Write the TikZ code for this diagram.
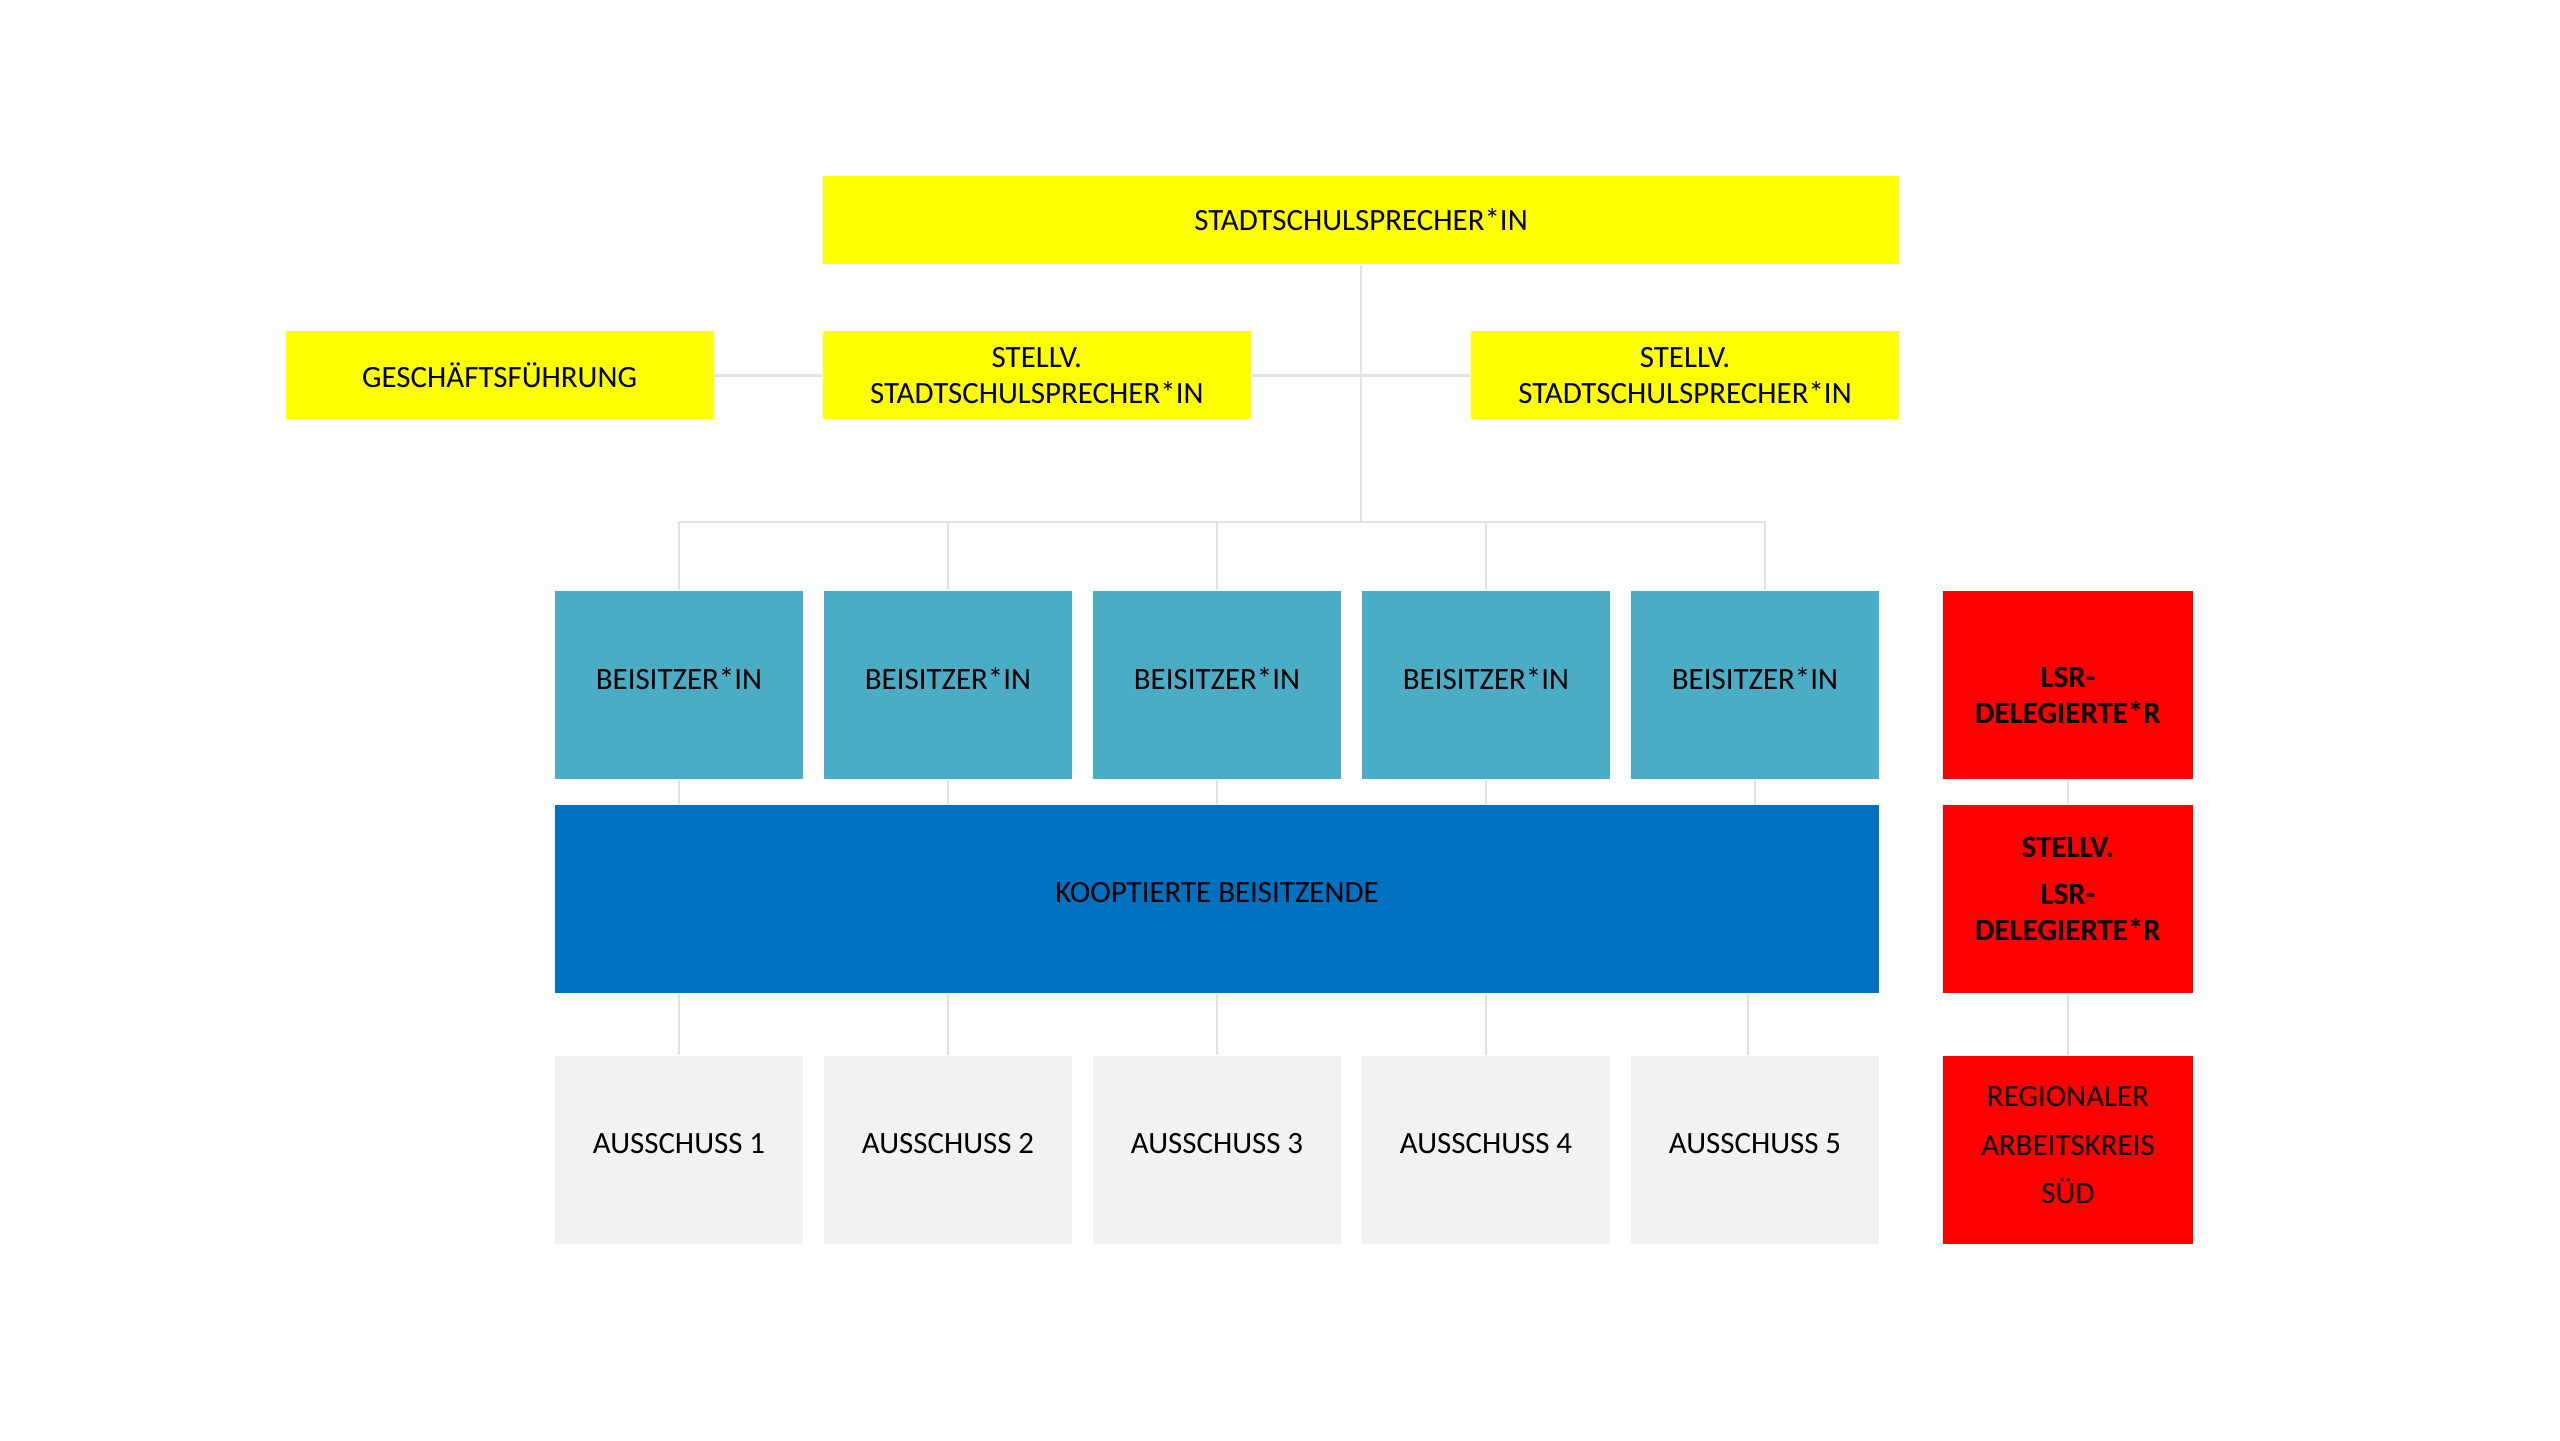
\documentclass[tikz,border=0pt]{standalone}
\usepackage{fontspec}
\setmainfont{Carlito}
\usetikzlibrary{positioning}
\definecolor{signal}{HTML}{FFFF00}
\definecolor{aqua}{HTML}{4BACC6}
\definecolor{royal}{HTML}{0070C0}
\definecolor{alarm}{HTML}{FF0000}
\definecolor{paper}{HTML}{F2F2F2}
\definecolor{wire}{HTML}{E2E2E2}

\begin{document}
\begin{tikzpicture}[
  every node/.style={font=\fontsize{8.8pt}{10.3pt}\selectfont, align=center, inner sep=0pt},
  box/.style={rectangle, minimum height=1.88cm, minimum width=2.48cm},
  lift/.style={text depth=3.7pt},
  head/.style={rectangle, fill=signal, minimum height=0.88cm, minimum width=4.28cm},
  seat/.style={box, lift, fill=aqua},
  coop/.style={box, lift, fill=royal, minimum width=13.24cm},
  comm/.style={box, lift, fill=paper},
  lsr/.style={box, fill=alarm, minimum width=2.5cm},
  link/.style={draw=wire, line width=0.6pt}
]
\useasboundingbox (0,0) rectangle (25.6,14.4);

% Nodes
\node[head, minimum width=10.76cm] (top)  at (13.61,12.20) {STADTSCHULSPRECHER*IN};
\node[head]                        (gf)   at (4.996,10.645) {GESCHÄFTSFÜHRUNG};
\node[head]                        (stv1) at (10.368,10.645) {STELLV.\\STADTSCHULSPRECHER*IN};
\node[head]                        (stv2) at (16.85,10.645) {STELLV.\\STADTSCHULSPRECHER*IN};

\node[seat] (b1) at (6.79,7.55)  {BEISITZER*IN};
\node[seat] (b2) at (9.48,7.55)  {BEISITZER*IN};
\node[seat] (b3) at (12.17,7.55) {BEISITZER*IN};
\node[seat] (b4) at (14.86,7.55) {BEISITZER*IN};
\node[seat] (b5) at (17.55,7.55) {BEISITZER*IN};

\node[coop] (koop) at (12.17,5.41) {KOOPTIERTE BEISITZENDE};

\node[comm] (a1) at (6.79,2.90)  {AUSSCHUSS 1};
\node[comm] (a2) at (9.48,2.90)  {AUSSCHUSS 2};
\node[comm] (a3) at (12.17,2.90) {AUSSCHUSS 3};
\node[comm] (a4) at (14.86,2.90) {AUSSCHUSS 4};
\node[comm] (a5) at (17.55,2.90) {AUSSCHUSS 5};

\node[lsr, font=\fontsize{8.8pt}{10.3pt}\selectfont\bfseries] (lsr1) at (20.68,7.55) {\rule{0pt}{11.8pt}LSR-\\DELEGIERTE*R};
\node[lsr, font=\fontsize{8.8pt}{10.3pt}\selectfont\bfseries] (lsr2) at (20.68,5.41) {STELLV.\\[3.1pt]LSR-\\DELEGIERTE*R\rule[-5.6pt]{0pt}{0pt}};
\node[lsr, font=\fontsize{8.8pt}{13.7pt}\selectfont] (rak) at (20.68,2.90) {REGIONALER\\ARBEITSKREIS\\SÜD\rule[-2.8pt]{0pt}{0pt}};

% Top part
\coordinate (bus) at (13.61,9.18);
\draw[link] (top) -- (bus);
\draw[link] (gf) -- (stv1);
\draw[link] (stv1) -- (stv2);

% Bus to the Beisitzer
\draw[link] (b1.north) |- (bus) -| ([xshift=1mm]b5.north);
\draw[link] (b2.north) -- (b2.north |- bus);
\draw[link] (b3.north) -- (b3.north |- bus);
\draw[link] (b4.north) -- (b4.north |- bus);

% Beisitzer to Kooptierte, Kooptierte to Ausschuss
\draw[link] (b1.south) -- (b1.south |- koop.north);
\draw[link] (b2.south) -- (b2.south |- koop.north);
\draw[link] (b3.south) -- (b3.south |- koop.north);
\draw[link] (b4.south) -- (b4.south |- koop.north);
\draw[link] (b5.south) -- (b5.south |- koop.north);
\draw[link] (a1.north |- koop.south) -- (a1.north);
\draw[link] (a2.north |- koop.south) -- (a2.north);
\draw[link] (a3.north |- koop.south) -- (a3.north);
\draw[link] (a4.north |- koop.south) -- (a4.north);
\draw[link] ([xshift=-0.7mm]a5.north |- koop.south) -- ([xshift=-0.7mm]a5.north);

% LSR column
\draw[link] (lsr1) -- (lsr2);
\draw[link] (lsr2) -- (rak);

\end{tikzpicture}
\end{document}
